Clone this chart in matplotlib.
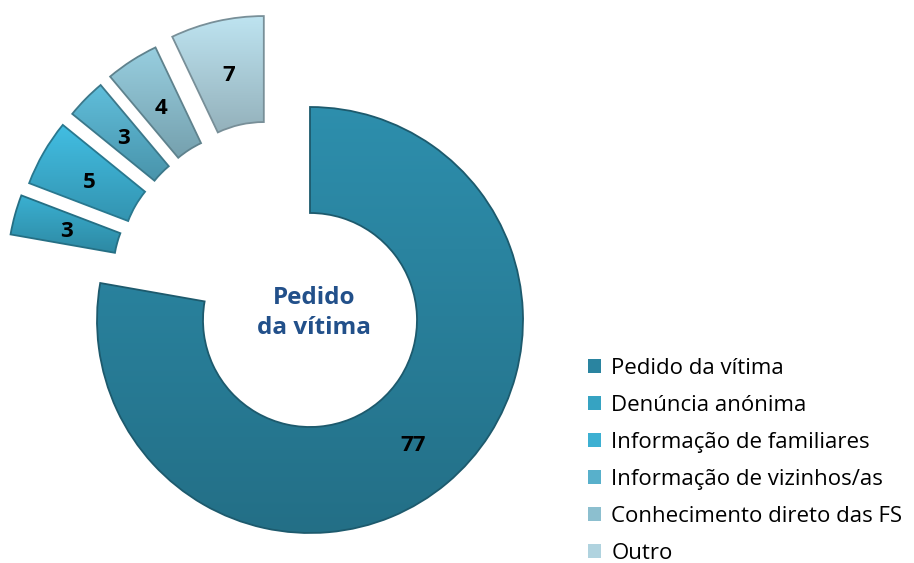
import numpy as np
import matplotlib.pyplot as plt
from matplotlib.colors import to_rgb
from matplotlib.patches import PathPatch

categorias = ["Pedido da vítima", "Denúncia anónima", "Informação de familiares",
              "Informação de vizinhos/as", "Conhecimento direto das FS", "Outro"]
valores = [77, 3, 5, 3, 4, 7]
cores = ["#2a84a0", "#36a3c2", "#3db0d2", "#58b0cb", "#8cbfcf", "#b0d3df"]
texto_centro = "Pedido\nda vítima"

plt.rcParams['font.family'] = ['Open Sans', 'DejaVu Sans']

W, H = 914, 563
fig = plt.figure(figsize=(W / 100, H / 100), dpi=100)
ax = fig.add_axes([0, 0, 1, 1])

cx, cy = 310, H - 320
r_ext = 213
largura = 106
r_lab = r_ext - largura / 2

wedges, _ = ax.pie(valores, colors=cores, startangle=90, counterclock=False,
                   radius=r_ext, center=(cx, cy),
                   wedgeprops=dict(width=largura, linewidth=0, zorder=1))

# fatias pequenas afastadas (direcao comprimida em torno de 135 graus, como no excel)
dist = 102
for w in wedges[1:]:
    mid = ((w.theta1 + w.theta2) / 2) % 360
    phi = np.deg2rad(135 + 0.56 * (mid - 135))
    w.set_center((cx + dist * np.cos(phi), cy + dist * np.sin(phi)))

def tom(c, f):
    return np.clip(np.array(to_rgb(c)) * f, 0, 1)

for w, c, v in zip(wedges, cores, valores):
    ext = w.get_path().get_extents()
    grad = np.linspace(0, 1, 200)[:, None, None]
    img = tom(c, 1.08) * (1 - grad) + tom(c, 0.84) * grad
    im = ax.imshow(img, extent=(ext.x0, ext.x1, ext.y0, ext.y1), aspect='auto',
                   zorder=2, interpolation='bilinear')
    im.set_clip_path(w)
    ax.add_patch(PathPatch(w.get_path(), fill=False, edgecolor=tom(c, 0.68),
                           linewidth=1.3, zorder=3))
    mid = np.deg2rad((w.theta1 + w.theta2) / 2)
    x0, y0 = w.center
    ax.text(x0 + r_lab * np.cos(mid), y0 + r_lab * np.sin(mid) - 3, str(v),
            ha='center', va='center', fontsize=16, fontweight='bold', color='black', zorder=4)

ax.text(314, H - 313, texto_centro, ha='center', va='center', fontsize=17.5,
        fontweight='bold', color='#22508a', linespacing=1.35, zorder=4)

ax.legend(wedges, categorias, loc='upper left', bbox_to_anchor=(588 / W, 1 - 358 / H),
          frameon=False, fontsize=16, handlelength=0.6, handleheight=0.6,
          handletextpad=0.45, labelspacing=0.72, borderaxespad=0, borderpad=0)

ax.set_xlim(0, W)
ax.set_ylim(0, H)
ax.set_aspect('equal')
ax.axis('off')

fig.savefig('out.png', dpi=100)
